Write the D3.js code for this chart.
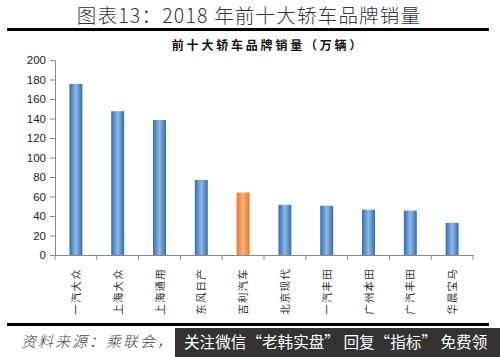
<!DOCTYPE html>
<html><head><meta charset="utf-8">
<script src="https://cdn.jsdelivr.net/npm/d3@7"></script>
<style>
html,body{margin:0;padding:0;background:#fff;}
svg{display:block;}
</style></head>
<body>
<svg id="c" width="500" height="357"></svg>
<script>
const categories = ["一汽大众","上海大众","上海通用","东风日产","吉利汽车","北京现代","一汽丰田","广州本田","广汽丰田","华晨宝马"];
const sales = [175.5, 147.5, 138.5, 77, 64, 51.5, 50.5, 46.5, 45.5, 33];
const highlight = ["吉利汽车"];
const yTicks = [0,20,40,60,80,100,120,140,160,180,200];

const svg = d3.select("#c");
const cjk = "'Noto Sans CJK SC','Noto Sans',sans-serif";

const defs = svg.append("defs");
function grad(id, edge, mid){
  const g = defs.append("linearGradient").attr("id", id).attr("x1","0%").attr("x2","100%").attr("y1","0%").attr("y2","0%");
  g.append("stop").attr("offset","0%").attr("stop-color", edge);
  g.append("stop").attr("offset","50%").attr("stop-color", mid);
  g.append("stop").attr("offset","100%").attr("stop-color", edge);
}
grad("gBlue", "#2f6db5", "#93b7e3");
grad("gOrange", "#e3782a", "#f8b27c");

// page title
svg.append("text").attr("x", 249).attr("y", 23).attr("text-anchor","middle")
  .style("font-family", "'Noto Sans CJK SC',serif").style("font-weight","300")
  .style("font-size","19.5px").style("letter-spacing","1.2px").attr("fill","#333")
  .text("图表13：2018 年前十大轿车品牌销量");
svg.append("rect").attr("x",7).attr("y",28).attr("width",482).attr("height",3).attr("fill","#000");

// chart title
svg.append("text").attr("x", 268).attr("y", 50).attr("text-anchor","middle")
  .style("font-family", cjk).style("font-weight","700")
  .style("font-size","12px").style("letter-spacing","2.8px").attr("fill","#111")
  .text("前十大轿车品牌销量（万辆）");

const x = d3.scaleBand().domain(categories).range([55, 473]).paddingInner(0.69).paddingOuter(0.345);
const y = d3.scaleLinear().domain([0, 200]).range([255, 60]);

// bars
svg.append("g").selectAll("rect").data(categories).join("rect")
  .attr("x", d => x(d)).attr("width", x.bandwidth())
  .attr("y", (d,i) => y(sales[i])).attr("height", (d,i) => y(0) - y(sales[i]))
  .attr("fill", d => highlight.includes(d) ? "url(#gOrange)" : "url(#gBlue)");

// y axis
const ya = svg.append("g").attr("transform","translate(55,0)")
  .call(d3.axisLeft(y).tickValues(yTicks).tickSize(5).tickPadding(4));
ya.select(".domain").attr("stroke","#888");
ya.selectAll(".tick line").attr("stroke","#888");
ya.selectAll(".tick text").style("font-family","'Liberation Sans',Arial,sans-serif").style("font-size","11.5px").attr("fill","#222");

// x axis
const xa = svg.append("g").attr("transform","translate(0,255)")
  .call(d3.axisBottom(x).tickSize(0).tickFormat(""));
xa.select(".domain").attr("stroke","#888");
xa.selectAll(".tick").remove();
const step = x.step();
const bounds = d3.range(categories.length + 1).map(i => 55 + i * step);
xa.selectAll("line.b").data(bounds).join("line").attr("class","b")
  .attr("x1", d => d).attr("x2", d => d).attr("y1", 0).attr("y2", 5).attr("stroke","#888");

// category labels (rotated)
svg.append("g").selectAll("text").data(categories).join("text")
  .attr("transform", d => `translate(${x(d) + x.bandwidth()/2 + 4},268) rotate(-90)`)
  .attr("text-anchor","end")
  .style("font-family", cjk).style("font-size","10.5px").style("letter-spacing","1.2px").attr("fill","#333")
  .text(d => d);

// bottom rule
svg.append("rect").attr("x",7).attr("y",323).attr("width",482).attr("height",3).attr("fill","#000");

// source
svg.append("text").attr("x", 21).attr("y", 347)
  .style("font-family", cjk).style("font-style","italic").style("font-weight","300")
  .style("font-size","15px").style("letter-spacing","2px").attr("fill","#444")
  .text("资料来源：乘联会，");

// watermark overlay
svg.append("rect").attr("x",175).attr("y",328).attr("width",325).attr("height",29).attr("fill","#333");
svg.append("text").attr("x", 184).attr("y", 348)
  .style("font-family", cjk).style("font-size","15.6px").attr("fill","#fff")
  .text("关注微信“老韩实盘” 回复“指标” 免费领");
</script>
</body></html>
